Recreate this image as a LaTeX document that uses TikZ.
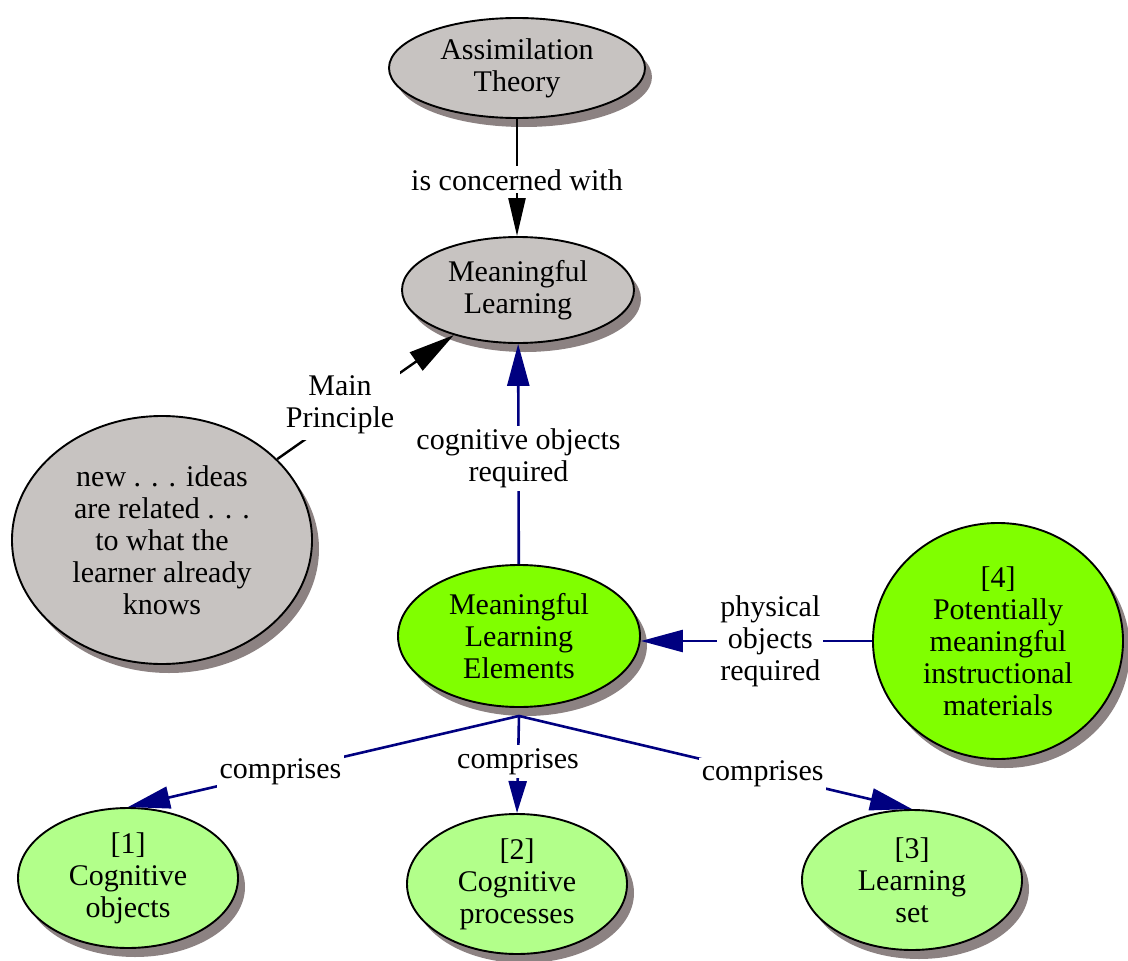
\documentclass[tikz,border=0pt]{standalone}
\usepackage{fontspec}
\setmainfont{Liberation Serif}
\usetikzlibrary{shapes.geometric,shadows,arrows.meta}
\definecolor{cgray}{RGB}{199,195,193}
\definecolor{cshadow}{RGB}{140,130,130}
\definecolor{cgreen}{RGB}{128,255,0}
\definecolor{clight}{RGB}{178,255,138}
\definecolor{cnavy}{RGB}{0,0,128}
\tikzset{
  concept/.style={ellipse, draw=black, line width=1.9pt, inner sep=0pt, align=center,
    font=\fontsize{30}{32}\selectfont,
    drop shadow={shadow xshift=7pt, shadow yshift=-9pt, fill=cshadow, opacity=1}},
  graybox/.style={concept, fill=cgray},
  greenbox/.style={concept, fill=cgreen},
  lightbox/.style={concept, fill=clight},
  lab/.style={fill=white, inner sep=3pt, align=center, font=\fontsize{30}{32}\selectfont},
  blk/.style={line width=2.4pt, draw=black, -{Triangle[length=38pt,width=17pt]}},
  blu/.style={line width=2.6pt, draw=cnavy, -{Triangle[length=42pt,width=22pt]}},
}
\begin{document}
\begin{tikzpicture}[x=1pt,y=-1pt]
\useasboundingbox (0,0) rectangle (1128,961);
% nodes
\node[graybox, minimum width=256pt, minimum height=100pt] (at) at (517,68) {Assimilation\\Theory};
\node[graybox, minimum width=232pt, minimum height=106pt] (ml) at (518,290) {Meaningful\\Learning};
\node[graybox, minimum width=300pt, minimum height=248pt] (ideas) at (162,540) {new . . . ideas\\are related . . .\\to what the\\learner already\\knows};
\node[greenbox, minimum width=242pt, minimum height=142pt] (mle) at (519,636) {Meaningful\\Learning\\Elements};
\node[greenbox, minimum width=250pt, minimum height=236pt] (c4) at (998,641) {[4]\\Potentially\\meaningful\\instructional\\materials};
\node[lightbox, minimum width=220pt, minimum height=140pt] (c1) at (128,878) {[1]\\Cognitive\\objects};
\node[lightbox, minimum width=220pt, minimum height=140pt] (c2) at (517,884) {[2]\\Cognitive\\processes};
\node[lightbox, minimum width=220pt, minimum height=140pt] (c3) at (912,880) {[3]\\Learning\\set};
% connectors
\draw[blk] (at.south) -- node[lab, pos=0.52] (l0) {is concerned with} (at.south |- ml.north);
\draw[blk, -{Triangle[length=46pt,width=22pt]}] (ideas) -- node[lab, pos=0.39, xshift=-6pt, yshift=6pt, inner sep=6pt] (lm) {Main\\Principle} (ml);
\draw[blu] (mle) -- node[lab, pos=0.48] (lc) {cognitive objects\\required} (ml);
\draw[blu] (c4.west) -- node[lab, pos=0.44] (lp) {physical\\objects\\required} (c4.west -| mle.east);
\draw[blu] ([yshift=-8pt]mle.south) -- node[lab, pos=0.61] (l1) {comprises} (c1.north);
\draw[blu, -{Triangle[length=32pt,width=18pt]}] ([yshift=-8pt]mle.south) -- node[lab, pos=0.47] (l2) {comprises} (c2.north);
\draw[blu] ([yshift=-8pt]mle.south) -- node[lab, pos=0.62] (l3) {comprises} (c3.north);
\end{tikzpicture}
\end{document}
